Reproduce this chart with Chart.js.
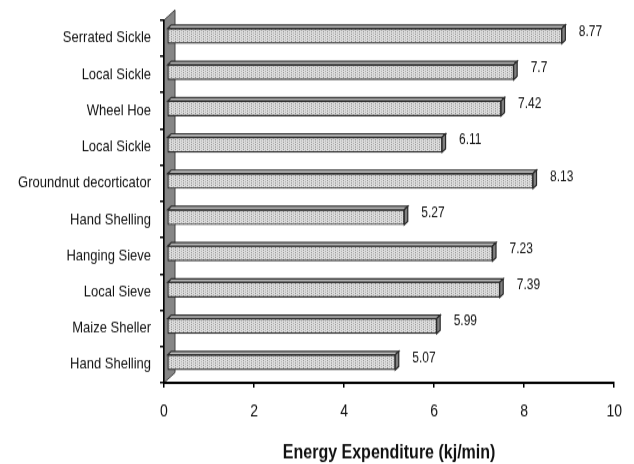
<!DOCTYPE html>
<html>
<head>
<meta charset="utf-8">
<script src="https://cdn.jsdelivr.net/npm/chart.js@4.4.0/dist/chart.umd.min.js"></script>
<style>
  html, body { margin: 0; padding: 0; background: #fff; width: 634px; height: 464px; overflow: hidden; }
  #page { width: 634px; height: 464px; }
  /* the source picture is stretched vertically, so the chart is too */
  #wrap { width: 634px; height: 387px; transform: scaleY(1.2); transform-origin: 0 0; }
  canvas { display: block; }
</style>
</head>
<body>
<div id="page"><div id="wrap"><canvas id="chart" width="634" height="387"></canvas></div></div>
<script>
// Data
const tools = ['Serrated Sickle', 'Local Sickle', 'Wheel Hoe', 'Local Sickle', 'Groundnut decorticator',
  'Hand Shelling', 'Hanging Sieve', 'Local Sieve', 'Maize Sheller', 'Hand Shelling'];
const energy = [8.77, 7.7, 7.42, 6.11, 8.13, 5.27, 7.23, 7.39, 5.99, 5.07];
const xTicks = [0, 2, 4, 6, 8, 10];

const FONT = "'Liberation Sans', Arial, sans-serif";

// 3D look
const SHIFT_X = 3, SHIFT_Y = -2;      // bars sit half way into the depth
const DEPTH_X = 3.5, DEPTH_Y = -2.8;  // bar top / end faces
const WALL_X = 11, WALL_Y = -8.5;     // grey side wall

// dotted fill like the original
function makePattern() {
  const c = document.createElement('canvas');
  c.width = 4; c.height = 4;
  const g = c.getContext('2d');
  g.fillStyle = '#dcdcdc';
  g.fillRect(0, 0, 4, 4);
  g.fillStyle = '#949494';
  g.fillRect(0, 0, 1, 1);
  g.fillRect(0, 2, 1, 1);
  g.fillStyle = '#b4b4b4';
  g.fillRect(2, 1, 1, 1);
  g.fillRect(2, 3, 1, 1);
  return g.createPattern(c, 'repeat');
}
const ctx = document.getElementById('chart').getContext('2d');
const dots = makePattern();

const depth3d = {
  id: 'depth3d',
  beforeDraw(chart) {
    const { ctx, chartArea: a } = chart;
    ctx.save();
    ctx.fillStyle = '#868686';
    ctx.strokeStyle = '#444';
    ctx.lineWidth = 1;
    ctx.beginPath();
    ctx.moveTo(a.left, a.top);
    ctx.lineTo(a.left + WALL_X, a.top + WALL_Y);
    ctx.lineTo(a.left + WALL_X, a.bottom + WALL_Y);
    ctx.lineTo(a.left, a.bottom);
    ctx.closePath();
    ctx.fill();
    ctx.stroke();
    ctx.restore();
  },
  beforeDatasetsDraw(chart) {
    chart.ctx.save();
    chart.ctx.translate(SHIFT_X, SHIFT_Y);
  },
  afterDatasetsDraw(chart) {
    const ctx = chart.ctx;
    const meta = chart.getDatasetMeta(0);
    ctx.lineWidth = 1.2;
    ctx.strokeStyle = '#2a2a2a';
    meta.data.forEach(bar => {
      const { x, y, base, height } = bar.getProps(['x', 'y', 'base', 'height'], true);
      const top = y - height / 2, bottom = y + height / 2;
      // top face
      ctx.beginPath();
      ctx.moveTo(base, top);
      ctx.lineTo(base + DEPTH_X, top + DEPTH_Y);
      ctx.lineTo(x + DEPTH_X, top + DEPTH_Y);
      ctx.lineTo(x, top);
      ctx.closePath();
      ctx.fillStyle = '#c0c0c0';
      ctx.fill();
      ctx.stroke();
      // end face
      ctx.beginPath();
      ctx.moveTo(x, top);
      ctx.lineTo(x + DEPTH_X, top + DEPTH_Y);
      ctx.lineTo(x + DEPTH_X, bottom + DEPTH_Y);
      ctx.lineTo(x, bottom);
      ctx.closePath();
      ctx.fillStyle = '#808080';
      ctx.fill();
      ctx.stroke();
    });
    ctx.restore();

    // value labels
    ctx.save();
    ctx.fillStyle = '#111';
    ctx.font = '12px ' + FONT;
    ctx.textAlign = 'left';
    ctx.textBaseline = 'middle';
    meta.data.forEach((bar, i) => {
      ctx.fillText(String(energy[i]), bar.x + 20, bar.y - 5.5);
    });
    ctx.restore();
  }
};

new Chart(ctx, {
  type: 'bar',
  data: {
    labels: tools,
    datasets: [{
      data: energy,
      backgroundColor: dots,
      borderColor: '#2a2a2a',
      borderWidth: 1.2,
      borderSkipped: false,
      barThickness: 12.5
    }]
  },
  options: {
    indexAxis: 'y',
    responsive: false,
    animation: false,
    devicePixelRatio: 1,
    layout: { padding: { top: 14, right: 16, left: 0, bottom: 0 } },
    plugins: {
      legend: { display: false },
      tooltip: { enabled: false }
    },
    scales: {
      x: {
        min: 0,
        max: 10,
        afterFit: s => { s.height = 68; },
        afterBuildTicks: s => { s.ticks = xTicks.map(v => ({ value: v })); },
        grid: { drawOnChartArea: false, tickLength: 4, color: '#000', lineWidth: 1.5 },
        border: { display: true, color: '#000', width: 2 },
        ticks: { color: '#111', padding: 12, font: { family: FONT, size: 14 } },
        title: {
          display: true,
          text: 'Energy Expenditure (kj/min)',
          color: '#111',
          padding: { top: 0, bottom: 0 },
          font: { family: FONT, size: 16, weight: 'bold' }
        }
      },
      y: {
        afterFit: s => { s.width = 164; },
        grid: { offset: true, drawOnChartArea: false, tickLength: 4, color: '#000', lineWidth: 1.5 },
        border: { display: true, color: '#000', width: 1.5 },
        ticks: { color: '#111', padding: 9, autoSkip: false, font: { family: FONT, size: 13 } }
      }
    }
  },
  plugins: [depth3d]
});
</script>
</body>
</html>
